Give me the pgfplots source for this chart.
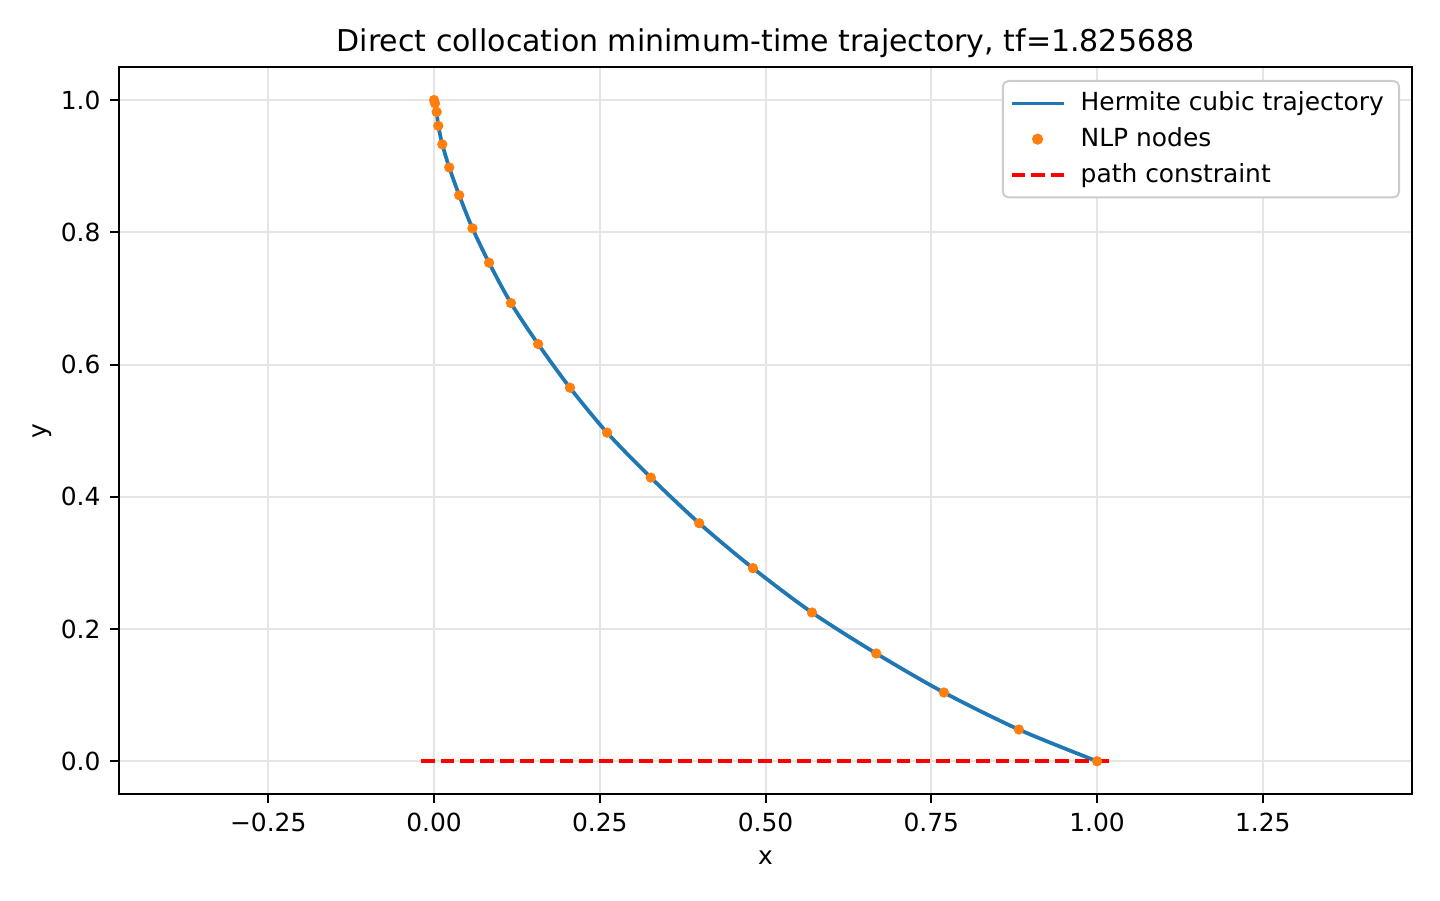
\documentclass[border=0pt]{standalone}
\usepackage{fontspec}
\setmainfont{DejaVu Sans}
\usepackage{pgfplots}
\pgfplotsset{compat=1.18}

\definecolor{mplblue}{HTML}{1F77B4}
\definecolor{mplorange}{HTML}{FF7F0E}
\definecolor{gridgray}{HTML}{E5E5E5}
\definecolor{legframe}{HTML}{CCCCCC}

% collocation nodes
\newcommand{\nodes}{
(0.000,1.000) (0.0015,0.995) (0.004,0.982) (0.0065,0.961) (0.0125,0.933)
(0.023,0.898) (0.038,0.856) (0.058,0.806) (0.083,0.754) (0.116,0.693)
(0.157,0.631) (0.205,0.565) (0.261,0.497) (0.327,0.429) (0.400,0.360)
(0.481,0.292) (0.570,0.225) (0.667,0.163) (0.769,0.104) (0.882,0.048)
(1.000,0.000)
}

\begin{document}
\begin{tikzpicture}
\begin{axis}[
    scale only axis,
    width=467pt, height=262.7pt,
    xmin=-0.475, xmax=1.475,
    ymin=-0.05, ymax=1.05,
    xtick={-0.25,0,0.25,0.5,0.75,1,1.25},
    xticklabels={−0.25,0.00,0.25,0.50,0.75,1.00,1.25},
    ytick={0,0.2,0.4,0.6,0.8,1.0},
    yticklabels={0.0,0.2,0.4,0.6,0.8,1.0},
    tick label style={font=\fontsize{9}{11}\selectfont},
    tick align=outside,
    major tick length=3.2pt,
    tick style={black, line width=0.72pt},
    xtick pos=bottom, ytick pos=left,
    axis line style={line width=0.72pt},
    grid=major,
    grid style={gridgray, line width=0.72pt},
    xlabel={x}, ylabel={y},
    label style={font=\fontsize{9}{11}\selectfont},
    xlabel style={yshift=0pt},
    ylabel style={yshift=-3.5pt},
    title={Direct collocation minimum-time trajectory, tf=1.825688},
    title style={font=\fontsize{10.84}{13}\selectfont, at={(0.5,1)}, anchor=base, yshift=-0.4pt},
    legend style={
        at={(rel axis cs:1,1)}, anchor=north east,
        xshift=-4.3pt, yshift=-4.7pt,
        draw=legframe, line width=0.72pt, rounded corners=2pt,
        font=\fontsize{9}{11}\selectfont,
        row sep=2.5pt, column sep=2.5pt, inner xsep=2.5pt, inner ysep=3pt,
        nodes={inner xsep=3pt, inner ysep=1pt},
    },
    legend cell align=left,
]

\addplot[mplblue, line width=1.35pt, smooth, tension=0.5,
    legend image code/.code={\draw[mplblue, line width=1.35pt] (0pt,0pt) -- (18.8pt,0pt);}]
    coordinates {\nodes};
\addlegendentry{Hermite cubic trajectory}

\addplot[only marks, mark=*, mark size=1.65pt, mplorange, mark options={draw=mplorange, fill=mplorange},
    legend image code/.code={\fill[mplorange] (9.4pt,0pt) circle (1.65pt);}]
    coordinates {\nodes};
\addlegendentry{NLP nodes}

\addplot[red, line width=1.35pt, dash pattern=on 5pt off 2.16pt,
    legend image code/.code={\draw[red, line width=1.35pt, dash pattern=on 5pt off 2.16pt] (0pt,0pt) -- (18.8pt,0pt);}]
    coordinates {(-0.02,0) (1.02,0)};
\addlegendentry{path constraint}

\end{axis}
\path (current axis.south west) ++(-43pt,-38.3pt) coordinate (bl);
\path (current axis.north east) ++(10.1pt,24.2pt) coordinate (tr);
\useasboundingbox (bl) rectangle (tr);
\end{tikzpicture}
\end{document}
